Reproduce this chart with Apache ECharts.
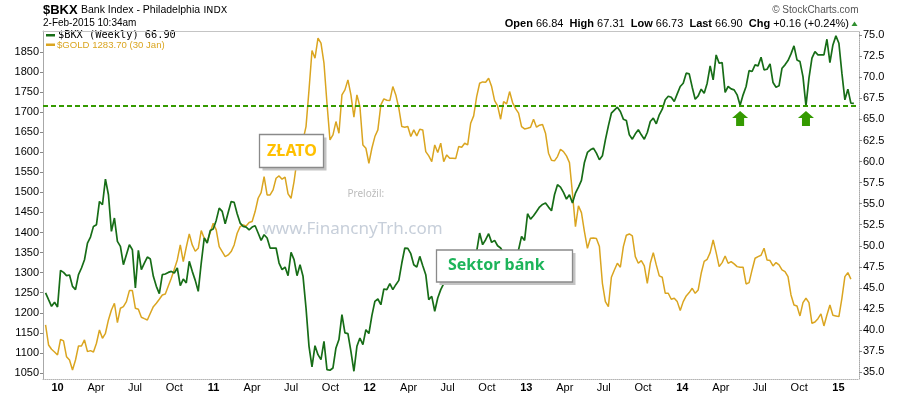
<!DOCTYPE html>
<html><head><meta charset="utf-8">
<script src="https://cdn.jsdelivr.net/npm/echarts@6/dist/echarts.min.js"></script>
<style>html,body{margin:0;padding:0;background:#fff}#c{width:900px;height:396px}</style>
</head><body><div id="c"></div>
<script>
// ---- data (weekly, Fridays starting 2009-12-04) ----
const firstWeek = '2009-12-04';
const bkx = [44.4,43.6,42.81,43.29,42.73,47.08,46.84,46.45,46.53,45.18,
44.79,46.57,47.36,48.34,50.32,51.03,52.3,52.5,55.26,54.87,
57.91,56.06,51.71,53.29,50.52,49.93,47.75,48.94,50.13,49.53,
44.98,49.45,47.16,47.95,48.66,48.42,46.37,45.18,44.31,46.57,
46.65,46.84,46.96,46.76,47.36,45.26,46.05,45.58,48.15,46.96,
45.89,44.59,47.95,50.92,50.32,51.8,
51.98,53.01,54.47,54.08,52.62,53.96,55.26,55.15,53.8,52.69,
52.3,52.22,51.9,52.22,52.38,51.51,50.64,51.31,50.92,49.73,
49.73,49.73,47.95,47.16,47.47,46.45,49.21,48.35,46.45,47.75,
46.37,42.61,38.06,35.61,38.14,37.07,36.48,38.66,35.3,35.22,
35.49,37.87,38.86,41.82,39.65,39.57,37.47,35.1,38.06,39.05,
38.26,40.04,39.57,41.7,43.4,
43.68,43.0,44.87,44.79,45.5,44.79,45.38,45.89,47.95,49.73,
49.69,49.06,47.75,47.47,48.74,47.63,46.57,43.6,44.0,42.22,
43.8,44.79,45.5,45.97,45.38,46.29,45.58,46.37,46.76,47.36,
47.75,47.95,48.74,49.33,51.51,50.13,50.72,51.43,50.4,50.64,
50.0,49.73,49.14,48.74,48.35,48.54,49.14,49.53,51.11,50.64,
53.8,53.17,53.56,54.08,54.6,
54.91,55.07,54.59,54.16,56.06,57.24,56.97,56.33,55.54,56.06,
55.07,56.25,56.97,57.76,59.89,61.08,61.39,61.59,61.0,60.21,
60.68,62.58,64.24,65.74,66.1,66.45,65.94,65.03,64.87,63.17,
62.66,63.29,63.77,63.17,62.66,63.45,64.75,65.15,64.48,65.55,
66.22,67.33,67.76,67.64,67.13,68.04,68.91,69.3,70.49,70.41,
68.83,67.4,67.8,68.59,68.1,
69.3,71.36,69.7,72.66,71.67,71.75,68.2,68.91,68.63,68.51,
67.92,66.69,67.92,68.91,70.8,70.69,71.48,71.36,72.39,70.88,
70.96,71.6,69.38,68.83,68.99,71.08,71.48,71.99,72.78,73.73,
72.07,71.87,70.09,66.61,69.9,72.27,73.06,72.66,72.66,72.66,
74.52,71.75,73.85,74.92,74.05,70.49,67.33,68.59,66.93,66.9];

const gold = [1169.7,1119.8,1109,1102.4,1094.9,1133.9,1129.8,1090.7,1082.4,1057.5,
1082.4,1117.3,1117.3,1132.3,1103.2,1105.7,1102.4,1124,1157.2,1136.4,
1148.9,1182.1,1207,1223.7,1175.5,1211.2,1215.3,1227.8,1255.2,1255.2,
1211.2,1208.7,1188.8,1185.4,1182.1,1198.7,1215.3,1223.7,1233.6,1244.4,
1246.9,1266.8,1286,1308.4,1331.6,1369,1327.5,1363.2,1396.4,1369,
1353.2,1360.7,1404.7,1385.6,1377.3,1400,
1423,1406.4,1364.9,1352.4,1340,1344.1,1352.4,1369,1398.1,1414.7,
1418.9,1416.4,1424.7,1427.2,1452.1,1485.3,1499.4,1539.3,1493.6,1493.6,
1506.1,1535.2,1541,1532.7,1537.7,1496.1,1485.3,1526.9,1580.9,1609.9,
1630.7,1663.9,1755.3,1853.3,1834.2,1884.1,1871.6,1821.8,1722.1,1630.7,
1643.2,1676.4,1647.3,1742.8,1755.3,1780.2,1742.8,1687.2,1742.8,1713.8,
1618.2,1609.9,1572.5,1609.9,1639,
1655.6,1717.9,1732.9,1729.5,1728.7,1763.6,1742.8,1709.6,1663.9,1662.3,
1663.9,1639,1655.6,1640.7,1657.3,1655.6,1601.6,1590.8,1576.7,1618.2,
1599.1,1622.4,1576.7,1593.3,1585,1585,1584.2,1614.1,1612.4,1622.4,
1618.2,1672.2,1690.5,1738.7,1771.9,1775.2,1774.4,1784.4,1763.6,1728.7,
1715.4,1682.2,1726.2,1720.4,1751.1,1723.7,1708.8,1697.2,1663.9,1658.1,
1659.8,1662.3,1682.2,1662.3,1667.2,
1668.9,1647.3,1597.5,1580,1578.4,1589.2,1607.4,1601.6,1590.8,1574.2,
1497.8,1414.7,1466.2,1449.6,1402.3,1360.7,1385.6,1386.5,1384.8,1364.9,
1273.5,1227.8,1215.3,1288.4,1306.7,1323.3,1313.4,1364.9,1393.1,1396.4,
1391.5,1340,1323.3,1330,1316.7,1273.5,1323.3,1349.9,1319.2,1291.8,
1288.4,1248.6,1248.6,1233.6,1236.1,1227.8,1205.4,1227.8,1241.9,1250.2,
1261,1248.6,1256.9,1298.4,1328,
1333.3,1349.9,1381.5,1349.9,1315,1325,1341.6,1323.3,1327.5,1321.7,
1315,1313.4,1313.4,1271.8,1275.2,1306.7,1335.8,1340,1343.3,1360.7,
1331.6,1330,1316.7,1325,1319.2,1306.7,1302.6,1290.1,1244.4,1219.5,
1217,1192.1,1225.3,1236.1,1225.3,1173.8,1177.1,1185.4,1197.1,1167.2,
1194.6,1219.5,1193.7,1192.1,1190.4,1236.1,1290,1300,1283.7];

const goldTicks = [1050,1100,1150,1200,1250,1300,1350,1400,1450,1500,1550,1600,1650,1700,1750,1800,1850];
const bkxTicks = [35,37.5,40,42.5,45,47.5,50,52.5,55,57.5,60,62.5,65,67.5,70,72.5,75];
const xTickDates = ['2010-01-01','2010-04-01','2010-07-01','2010-10-01',
 '2011-01-01','2011-04-01','2011-07-01','2011-10-01',
 '2012-01-01','2012-04-01','2012-07-01','2012-10-01',
 '2013-01-01','2013-04-01','2013-07-01','2013-10-01',
 '2014-01-01','2014-04-01','2014-07-01','2014-10-01','2015-01-01'];
const monthNames = ['Jan','Feb','Mar','Apr','May','Jun','Jul','Aug','Sep','Oct','Nov','Dec'];
const supportLevel = 66.6;
const arrowDates = ['2014-05-16','2014-10-17'];
const arrowLevel = 65.1;
const xRange = ['2009-11-28','2015-02-18'];
const goldRange = [1035, 1902];
const bkxRange = [34.18, 75.5];

// ---- build ----
const DAY = 864e5;
const t0 = Date.parse(firstWeek);
const weekTime = i => t0 + i * 7 * DAY;
const bkxData = bkx.map((v, i) => [weekTime(i), v]);
const goldData = gold.map((v, i) => [weekTime(i), v]);
const xTicks = xTickDates.map(d => Date.parse(d));

const chart = echarts.init(document.getElementById('c'), null, {renderer: 'canvas'});
const AX = 'Liberation Sans, Arial, sans-serif';
const GREEN = '#176d17', GOLD = '#DAA520', SUP = '#349a00';

const option = {
  animation: false,
  backgroundColor: '#fff',
  grid: {left: 43, right: 41, top: 31, bottom: 17, containLabel: false},
  xAxis: [{
    type: 'value', min: Date.parse(xRange[0]), max: Date.parse(xRange[1]),
    axisLine: {show: true, onZero: false, lineStyle: {color: '#b4b4b4', type: 'dotted', width: 1}},
    axisTick: {show: false}, splitLine: {show: false},
    axisLabel: {
      customValues: xTicks, margin: 3, color: '#000', fontSize: 11, fontFamily: AX,
      formatter: v => {
        const d = new Date(v); const m = d.getUTCMonth();
        if (m === 0) return '{yr|' + String(d.getUTCFullYear() % 100).padStart(2, '0') + '}';
        return monthNames[m];
      },
      rich: {yr: {fontWeight: 'bold', fontSize: 11, fontFamily: AX, color: '#000'}}
    }
  }, {
    type: 'value', position: 'top', min: Date.parse(xRange[0]), max: Date.parse(xRange[1]),
    axisLine: {show: true, onZero: false, lineStyle: {color: '#c4c4c4', width: 1}},
    axisTick: {show: false}, axisLabel: {show: false}, splitLine: {show: false}
  }],
  yAxis: [{
    type: 'value', position: 'left', min: goldRange[0], max: goldRange[1],
    axisLine: {show: true, onZero: false, lineStyle: {color: '#a8a8a8', width: 1}},
    axisTick: {show: true, length: 3, customValues: goldTicks, lineStyle: {color: '#888'}},
    axisLabel: {customValues: goldTicks, margin: 4, color: '#000', fontSize: 11, fontFamily: AX,
      formatter: v => String(v)},
    splitLine: {show: false}
  }, {
    type: 'value', position: 'right', min: bkxRange[0], max: bkxRange[1],
    axisLine: {show: true, onZero: false, lineStyle: {color: '#a8a8a8', width: 1, type: 'dotted'}},
    axisTick: {show: true, length: 3, customValues: bkxTicks, lineStyle: {color: '#888'}},
    axisLabel: {customValues: bkxTicks, margin: 4, color: '#000', fontSize: 11, fontFamily: AX,
      formatter: v => v.toFixed(1)},
    splitLine: {show: false}
  }],
  series: [{
    type: 'line', name: '$GOLD', xAxisIndex: 0, yAxisIndex: 0, data: goldData,
    showSymbol: false, symbol: 'none', silent: true, z: 2,
    lineStyle: {color: GOLD, width: 1.5}
  }, {
    type: 'line', name: '$BKX', xAxisIndex: 0, yAxisIndex: 1, data: bkxData,
    showSymbol: false, symbol: 'none', silent: true, z: 3,
    lineStyle: {color: GREEN, width: 1.7},
    markLine: {
      silent: true, symbol: ['none', 'none'], label: {show: false},
      lineStyle: {color: SUP, type: [5, 3], width: 2},
      data: [{yAxis: supportLevel}]
    },
    markPoint: {
      silent: true,
      symbol: 'path://M8,0L16,7L12,7L12,15L4,15L4,7L0,7Z',
      symbolSize: [16, 15],
      itemStyle: {color: SUP}, label: {show: false},
      data: arrowDates.map(d => ({coord: [Date.parse(d), arrowLevel]}))
    }
  }],
  graphic: [
    // header
    {type: 'text', x: 43, y: 10, style: {text: '$BKX', font: 'bold 13px ' + AX, fill: '#000', verticalAlign: 'middle'}},
    {type: 'text', x: 81, y: 10.5, style: {text: 'Bank Index - Philadelphia', font: '10.5px ' + AX, fill: '#000', verticalAlign: 'middle'}},
    {type: 'text', x: 203.5, y: 11, style: {text: 'INDX', font: '9.5px DejaVu Sans', fill: '#000', verticalAlign: 'middle'}},
    {type: 'text', x: 43, y: 23.5, style: {text: '2-Feb-2015 10:34am', font: '10px ' + AX, fill: '#000', verticalAlign: 'middle'}},
    {type: 'text', x: 858.5, y: 10, style: {text: '© StockCharts.com', font: '10px ' + AX, fill: '#555', align: 'right', verticalAlign: 'middle'}},
    {type: 'text', x: 849, y: 23.5, style: {
      text: '{b|Open} 66.84  {b|High} 67.31  {b|Low} 66.73  {b|Last} 66.90  {b|Chg} +0.16 (+0.24%)',
      font: '11px ' + AX, fill: '#000', align: 'right', verticalAlign: 'middle',
      rich: {b: {fontWeight: 'bold', fontSize: 11, fontFamily: AX, fill: '#000'}}}},
    {type: 'polygon', shape: {points: [[851.5, 26], [857.5, 26], [854.5, 21.5]]}, style: {fill: '#2f8f2f'}},
    // legend
    {type: 'rect', shape: {x: 46, y: 34, width: 9, height: 2.5}, style: {fill: GREEN}},
    {type: 'text', x: 58, y: 35.5, style: {text: '$BKX (Weekly) 66.90', font: '10.3px DejaVu Sans Mono', fill: '#000', verticalAlign: 'middle'}},
    {type: 'rect', shape: {x: 46, y: 43.5, width: 9, height: 2.5}, style: {fill: GOLD}},
    {type: 'text', x: 57, y: 45, style: {text: '$GOLD 1283.70 (30 Jan)', font: '9.6px ' + AX, fill: GOLD, verticalAlign: 'middle'}},
    // watermark
    {type: 'text', x: 262.5, y: 229.5, z: 50, style: {text: 'www.FinancnyTrh.com', font: '17px Noto Sans', fill: '#c7cfda', verticalAlign: 'middle'}},
    {type: 'text', x: 347.5, y: 194.5, z: 50, style: {text: 'Preložil:', font: '10px Noto Sans', fill: '#bcbcbc', verticalAlign: 'middle'}},
    // ZŁATO box
    {type: 'rect', z: 60, shape: {x: 262.5, y: 137.5, width: 64, height: 33}, style: {fill: '#c4c4c4'}},
    {type: 'rect', z: 61, shape: {x: 259.5, y: 134.5, width: 64, height: 33}, style: {fill: '#fff', stroke: '#8a8a8a', lineWidth: 1.3}},
    {type: 'text', z: 62, x: 292, y: 151.5, style: {text: 'ZŁATO', font: 'bold 16px Noto Sans', fill: '#ffc000', align: 'center', verticalAlign: 'middle'}},
    // Sektor bánk box
    {type: 'rect', z: 60, shape: {x: 439.5, y: 253, width: 136, height: 32}, style: {fill: '#c4c4c4'}},
    {type: 'rect', z: 61, shape: {x: 436.5, y: 250, width: 136, height: 32}, style: {fill: '#fff', stroke: '#8a8a8a', lineWidth: 1.3}},
    {type: 'text', z: 62, x: 448, y: 265.5, style: {text: 'Sektor bánk', font: 'bold 16px Noto Sans', fill: '#1db45a', verticalAlign: 'middle'}}
  ]
};
chart.setOption(option);
</script>
</body></html>
